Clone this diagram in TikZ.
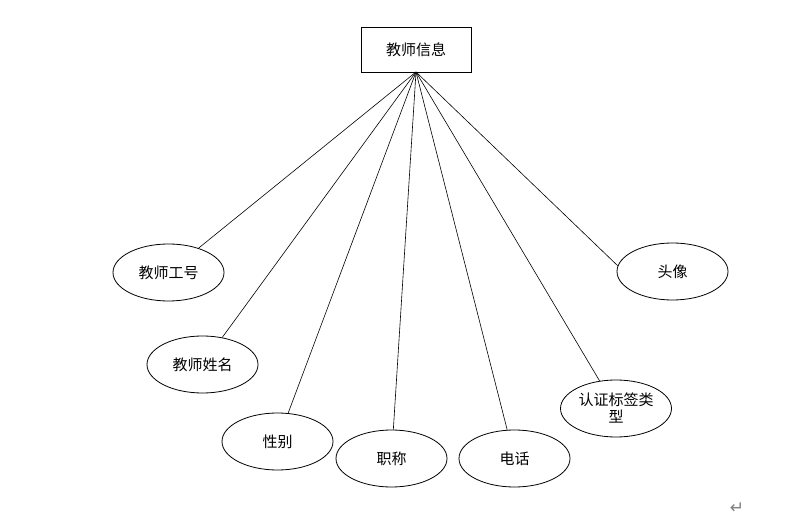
\documentclass[tikz,border=0pt]{standalone}
\usepackage{fontspec}
\setmainfont{Noto Sans CJK SC}
\newfontfamily\symfont{DejaVu Sans}
\usetikzlibrary{shapes.geometric}
\begin{document}
\begin{tikzpicture}[x=1pt,y=-1pt,
  ent/.style={draw, line width=0.8pt, minimum width=110pt, minimum height=45pt, inner sep=0pt, font=\fontsize{15}{17}\selectfont},
  attr/.style={draw, ellipse, line width=0.8pt, minimum width=111pt, minimum height=57pt, inner sep=0pt, align=center, font=\fontsize{15}{17}\selectfont},
  link/.style={line width=0.6pt}]
\useasboundingbox (0,0) rectangle (803,518);
\node[ent] (e) at (416,49.5) {教师信息};
\coordinate (hub) at (416,72);
\node[attr] (a1) at (168.5,272.5) {教师工号};
\node[attr] (a2) at (202.5,364.5) {教师姓名};
\node[attr] (a3) at (277.5,441.5) {性别};
\node[attr] (a4) at (391.5,458.5) {职称};
\node[attr] (a5) at (514.5,458.5) {电话};
\node[attr, text width=76pt] (a6) at (616,408.5) {\fontsize{15}{19}\selectfont 认证标签类\\型};
\node[attr] (a7) at (672.5,271.5) {头像};
\foreach \n in {a1,a2,a3,a4,a5,a6} \draw[link] (hub) -- (\n);
\draw[link] (hub) -- (a7.174);
\node[text=gray, font=\symfont\fontsize{17}{17}\selectfont, inner sep=0pt] (ret) at (737,508) {↵};
\end{tikzpicture}
\end{document}
